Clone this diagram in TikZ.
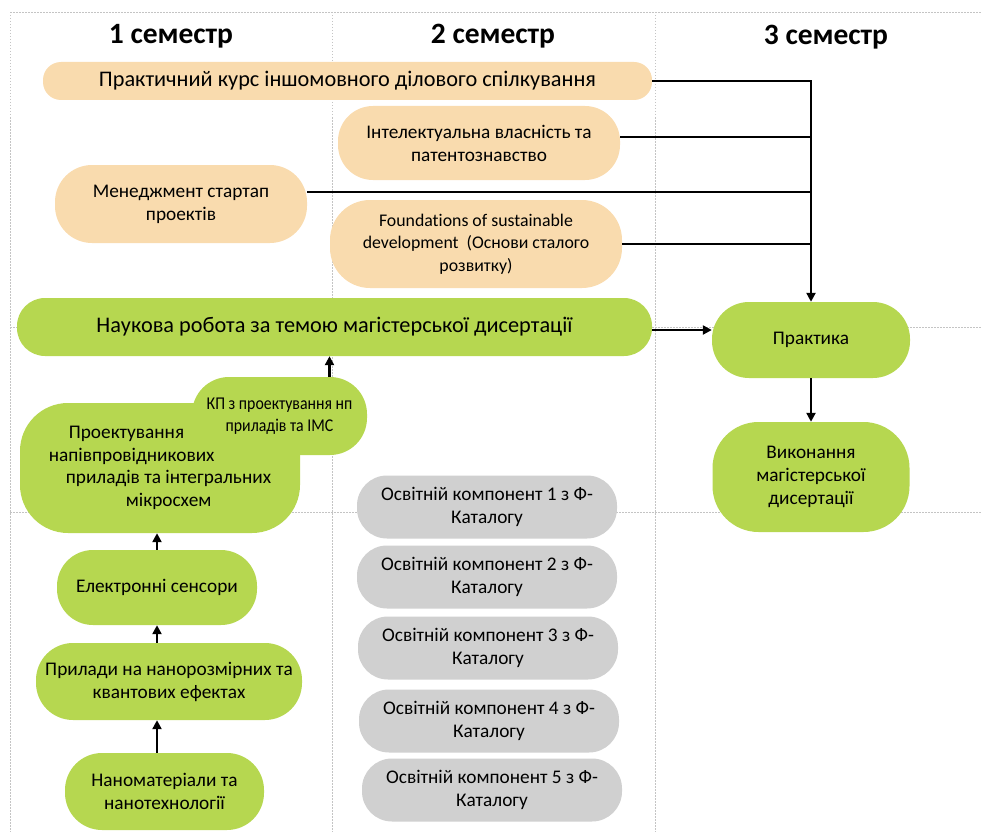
\documentclass[tikz,border=0pt]{standalone}
\usepackage{fontspec}
\setmainfont{Carlito}[Ligatures=NoCommon]
\usetikzlibrary{arrows.meta}
\definecolor{peach}{HTML}{F9DBAE}
\definecolor{lime}{HTML}{B6D750}
\definecolor{greybox}{HTML}{D0D0D0}
\definecolor{gridc}{HTML}{C4C4C4}
\begin{document}
\begin{tikzpicture}[x=1pt,y=-1pt,
  grid/.style={draw=gridc, line width=0.6pt, dash pattern=on 1.5pt off 1.5pt},
  hdr/.style={font=\fontsize{29.5}{34}\selectfont\bfseries},
  box/.style={inner sep=0pt, align=center, font=\fontsize{19.3}{23}\selectfont},
  pe/.style={box, fill=peach},
  gr/.style={box, fill=lime},
  gy/.style={box, fill=greybox, minimum width=260pt, minimum height=63pt, rounded corners=30pt},
  conn/.style={draw=black, line width=2.7pt},
  arr/.style={conn, -{Triangle[length=9pt,width=9pt]}}
]
\useasboundingbox (0,0) rectangle (982,832);
% grid
\draw[grid] (10,12) -- (982,12);
\draw[grid] (10,327) -- (982,327);
\draw[grid] (10,512) -- (982,512);
\draw[grid] (10,12) -- (10,832);
\draw[grid] (332,12) -- (332,832);
\draw[grid] (655,12) -- (655,832);
% headers
\node[hdr] (h1) at (171,36) {1 семестр};
\node[hdr] (h2) at (493,36) {2 семестр};
\node[hdr] (h3) at (826,37) {3 семестр};
% peach
\node[pe, minimum width=609pt, minimum height=38pt, rounded corners=18pt, font=\fontsize{22.3}{26}\selectfont] (prak) at (347.5,81) {Практичний курс іншомовного ділового спілкування};
\node[pe, minimum width=282pt, minimum height=74pt, rounded corners=35pt] (intel) at (479,143) {Інтелектуальна власність та\\патентознавство};
\node[pe, minimum width=252pt, minimum height=78pt, rounded corners=37pt] (men) at (181,204) {Менеджмент стартап\\проектів};
\node[pe, minimum width=292pt, minimum height=88pt, rounded corners=40pt, font=\fontsize{17.8}{22.5}\selectfont] (found) at (476,244) {Foundations of sustainable\\development\ \ (Основи сталого\\розвитку)};
% green
\node[gr, minimum width=635pt, minimum height=58pt, rounded corners=28pt, font=\fontsize{22.3}{26}\selectfont] (nauk) at (334.5,327) {Наукова робота за темою магістерської дисертації};
\node[gr, minimum width=280pt, minimum height=130pt, rounded corners=48pt, align=left, font=\fontsize{19.3}{22.5}\selectfont] (proekt) at (160,468) {\hspace*{20pt}Проектування\\напівпровідникових\\\hspace*{17pt}приладів та інтегральних\hspace*{22pt}\\\hspace*{77pt}мікросхем};
\node[gr, minimum width=175pt, minimum height=78pt, rounded corners=37pt, font=\fontsize{18}{21.5}\selectfont\addfontfeature{FakeStretch=0.88}] (kp) at (279.5,416) {КП з проектування нп\\приладів та IMC};
\node[gr, minimum width=200pt, minimum height=75pt, rounded corners=36pt] (elekt) at (157,587.5) {Електронні сенсори};
\node[gr, minimum width=266pt, minimum height=77pt, rounded corners=37pt] (pryl) at (169,681.5) {Прилади на нанорозмірних та\\квантових ефектах};
\node[gr, minimum width=199pt, minimum height=77pt, rounded corners=37pt] (nano) at (164.5,791.5) {Наноматеріали та\\нанотехнології};
\node[gr, minimum width=198pt, minimum height=76pt, rounded corners=37pt] (prakt) at (811,340) {Практика};
\node[gr, minimum width=197pt, minimum height=110pt, rounded corners=46pt] (vyk) at (811,477) {Виконання\\магістерської\\дисертації};
% grey
\node[gy] (k1) at (487,507) {Освітній компонент 1 з Ф-\\Каталогу};
\node[gy] (k2) at (487,577) {Освітній компонент 2 з Ф-\\Каталогу};
\node[gy] (k3) at (488,648) {Освітній компонент 3 з Ф-\\Каталогу};
\node[gy] (k4) at (489,721) {Освітній компонент 4 з Ф-\\Каталогу};
\node[gy] (k5) at (492,790) {Освітній компонент 5 з Ф-\\Каталогу};
% connectors
\draw[arr] (prak.east) -| (prakt.north);
\draw[conn] ([yshift=6pt]intel.east) -- ([yshift=6pt]intel.east -| prakt.north);
\draw[conn] ([yshift=12pt]men.east) -- ([yshift=12pt]men.east -| prakt.north);
\draw[conn] (found.east) -- (found.east -| prakt.north);
\draw[arr] ([yshift=-3pt]nauk.east) -- ([yshift=-3pt]nauk.east -| prakt.west);
\draw[arr] (prakt.south) -- (vyk.north);
\draw[arr] ([xshift=50pt]kp.north) -- ([xshift=50pt]kp.north |- nauk.south);
\draw[arr] (elekt.north) -- (elekt.north |- proekt.south);
\draw[arr] (pryl.north -| elekt.north) -- (elekt.south);
\draw[arr] (nano.north -| elekt.north) -- (pryl.south -| elekt.north);
\end{tikzpicture}
\end{document}
